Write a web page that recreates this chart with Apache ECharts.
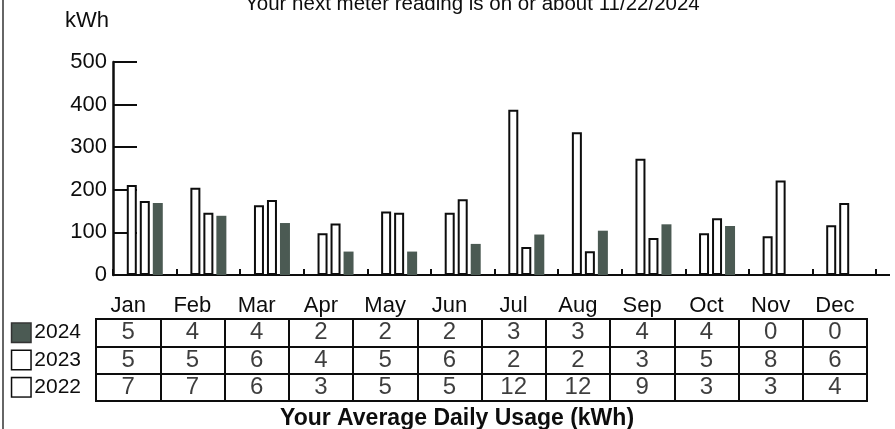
<!DOCTYPE html>
<html>
<head>
<meta charset="utf-8">
<script src="https://cdn.jsdelivr.net/npm/echarts@6/dist/echarts.min.js"></script>
<style>html,body{margin:0;padding:0;background:#fff}#c{width:895px;height:429px}</style>
</head>
<body>
<div id="c"></div>
<script>
var months = ['Jan','Feb','Mar','Apr','May','Jun','Jul','Aug','Sep','Oct','Nov','Dec'];
var years = ['2024','2023','2022'];
var kwh2022 = [211,205,164,98,149,146,388,335,273,98,91,117];
var kwh2023 = [174,146,176,121,146,178,66,56,87,133,222,169];
var kwh2024 = [169,139,122,55,55,73,95,104,119,115,0,0];
var avg2024 = [5,4,4,2,2,2,3,3,4,4,0,0];
var avg2023 = [5,5,6,4,5,6,2,2,3,5,8,6];
var avg2022 = [7,7,6,3,5,5,12,12,9,3,3,4];
var yTicks = [0,100,200,300,400,500];

var DARK = '#4b5a53';
var INK = '#0d0d0d';
var FONT = 'Liberation Sans, Arial, sans-serif';
var NARROW = 'Liberation Sans Narrow, Arial Narrow, Liberation Sans, sans-serif';

var tableRows = {'2024': avg2024, '2023': avg2023, '2022': avg2022};
var tableData = [];
years.forEach(function (y, r) {
  tableRows[y].forEach(function (v, m) { tableData.push([m, r, v]); });
});

var chart = echarts.init(document.getElementById('c'), null, {renderer: 'canvas'});
chart.setOption({
  backgroundColor: '#fff',
  animation: false,
  textStyle: {fontFamily: FONT},
  title: [
    {text: 'Your next meter reading is on or about 11/22/2024', left: 240, top: -11,
     textStyle: {fontSize: 20.5, fontWeight: 'normal', color: INK, fontFamily: FONT}},
    {text: 'kWh', left: 60, top: 5,
     textStyle: {fontSize: 22, fontWeight: 'normal', color: INK, fontFamily: FONT}},
    {text: 'Your Average Daily Usage (kWh)', left: 275, top: 402,
     textStyle: {fontSize: 23, fontWeight: 'bold', color: INK, fontFamily: FONT}}
  ],
  graphic: [
    {type: 'line', shape: {x1: 3, y1: 0, x2: 3, y2: 429}, style: {stroke: '#666', lineWidth: 2}},
    {type: 'line', shape: {x1: 875, y1: 275, x2: 890, y2: 275}, style: {stroke: INK, lineWidth: 2}}
  ],
  grid: [
    {left: 113, right: 19, top: 62, bottom: 154},
    {left: 96, right: 28, top: 319, bottom: 28, show: true, borderColor: INK, borderWidth: 2, backgroundColor: 'transparent'}
  ],
  xAxis: [
    {type: 'category', gridIndex: 0, data: months,
     axisLine: {show: true, lineStyle: {color: INK, width: 2}},
     axisTick: {show: true, inside: true, length: 6, lineStyle: {color: INK, width: 2}},
     axisLabel: {show: false}, splitLine: {show: false}},
    {type: 'category', gridIndex: 1, data: months, position: 'top',
     axisLine: {show: false}, axisTick: {show: false},
     axisLabel: {show: true, fontSize: 22, color: INK, margin: 2, fontFamily: FONT},
     splitLine: {show: true, interval: 0, lineStyle: {color: INK, width: 2}}}
  ],
  yAxis: [
    {type: 'value', gridIndex: 0, min: 0, max: 500, interval: 100,
     axisLine: {show: true, lineStyle: {color: INK, width: 2.5}},
     axisTick: {show: true, inside: true, length: 24, lineStyle: {color: INK, width: 2}},
     axisLabel: {fontSize: 22, color: INK, margin: 6, fontFamily: FONT,
       formatter: function (v) { return yTicks.indexOf(v) >= 0 ? String(v) : ''; }},
     splitLine: {show: false}},
    {type: 'category', gridIndex: 1, data: years, inverse: true,
     axisLine: {show: false}, axisTick: {show: false},
     splitLine: {show: true, interval: 0, lineStyle: {color: INK, width: 2}},
     axisLabel: {margin: 15, color: INK,
       formatter: function (v) { return '{b' + v + '|}{t|' + v + '}'; },
       rich: {
         b2024: {width: 18, height: 18, backgroundColor: DARK, borderColor: '#333', borderWidth: 1.5},
         b2023: {width: 18, height: 18, backgroundColor: '#fff', borderColor: INK, borderWidth: 1.5},
         b2022: {width: 18, height: 18, backgroundColor: '#fff', borderColor: INK, borderWidth: 1.5},
         t: {fontSize: 21, fontFamily: NARROW, color: INK, padding: [0, 0, 0, 4]}
       }}}
  ],
  series: [
    {name: '2022', type: 'bar', xAxisIndex: 0, yAxisIndex: 0, data: kwh2022,
     barWidth: 10, barGap: '30%',
     itemStyle: {color: '#fff', borderColor: INK, borderWidth: 2}},
    {name: '2023', type: 'bar', xAxisIndex: 0, yAxisIndex: 0, data: kwh2023,
     barWidth: 10, barGap: '30%',
     itemStyle: {color: '#fff', borderColor: INK, borderWidth: 2}},
    {name: '2024', type: 'bar', xAxisIndex: 0, yAxisIndex: 0, data: kwh2024,
     barWidth: 10, barGap: '30%',
     itemStyle: {color: DARK, borderWidth: 0}},
    {name: 'table', type: 'scatter', xAxisIndex: 1, yAxisIndex: 1, data: tableData,
     symbolSize: 1, silent: true, itemStyle: {color: 'rgba(0,0,0,0)'},
     label: {show: true, position: 'inside', color: INK, fontSize: 24, fontFamily: NARROW,
       formatter: function (p) { return String(p.value[2]); }}}
  ]
});
</script>
</body>
</html>
